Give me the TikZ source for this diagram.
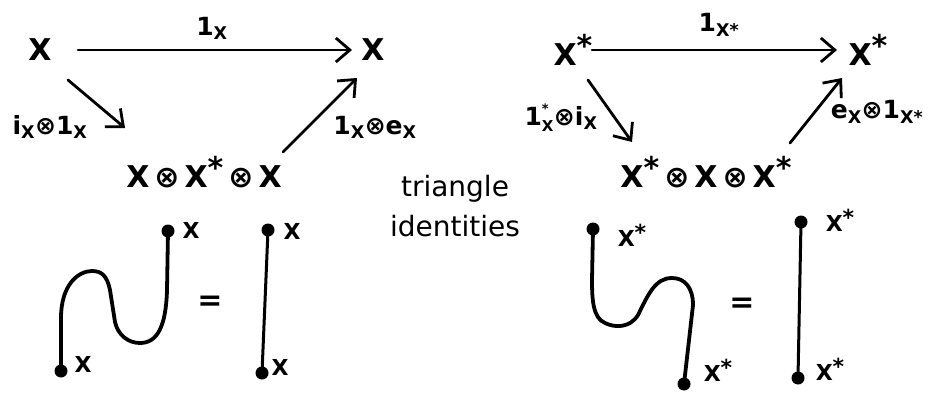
\documentclass[tikz,border=0pt]{standalone}
\usepackage{fontspec}
\setmainfont{DejaVu Sans}
\usetikzlibrary{arrows.meta}
\newcommand{\st}{\raisebox{0.28em}{*}}
\newcommand{\ot}{\,⊗\,}
\begin{document}
\begin{tikzpicture}[x=1pt,y=-1pt,
  obj/.style={font=\fontsize{30}{30}\selectfont\bfseries, inner sep=1pt},
  lab/.style={font=\fontsize{25}{25}\selectfont\bfseries, inner sep=1pt},
  arr/.style={line width=2.8pt, line cap=round, -{Straight Barb[length=14pt,width=24pt,line width=2.8pt]}},
  wire/.style={line width=3.8pt, line cap=round, line join=round},
  dot/.style={circle, fill, inner sep=0pt, minimum size=13pt},
  wlab/.style={font=\fontsize{22}{22}\selectfont\bfseries, inner sep=1pt},
  eq/.style={font=\fontsize{30}{30}\selectfont\bfseries, inner sep=1pt},
  title/.style={font=\fontsize{28}{40}\selectfont, align=center, inner sep=1pt}
]
\useasboundingbox (0,0) rectangle (936,401);
\fill[white] (0,0) rectangle (936,401);

% left triangle
\node[obj] (XL) at (40,50) {X};
\node[obj] (XR) at (373,50) {X};
\node[obj] (M) at (204,172) {X\ot X\st\ot X};
\draw[arr] ([xshift=38]XL.center) -- ([xshift=-21]XR.center);
\draw[arr] ([shift={(28,30)}]XL.center) -- ([shift={(-79,-44)}]M.center);
\draw[arr] ([shift={(79,-20)}]M.center) -- ([shift={(-16,28)}]XR.center);
\node[lab] (l1) at (212,28) {1\textsubscript{X}};
\node[lab] (l2) at (50,127) {i\textsubscript{X}⊗1\textsubscript{X}};
\node[lab] (l3) at (375,127) {1\textsubscript{X}⊗e\textsubscript{X}};

% right triangle
\node[obj] (YL) at (573,50) {X\st};
\node[obj] (YR) at (868,50) {X\st};
\node[obj] (N) at (706,172) {X\st\ot X\ot X\st};
\draw[arr] ([xshift=19]YL.center) -- ([xshift=-31]YR.center);
\draw[arr] ([shift={(15,30)}]YL.center) -- ([shift={(-74,-30)}]N.center);
\draw[arr] ([shift={(84,-29)}]N.center) -- ([shift={(-26,28)}]YR.center);
\node[lab] (r1) at (719,25) {1\textsubscript{X*}};
\node[lab] (r2) at (561,118) {$\hbox{1}^{\hbox{\fontsize{13}{13}\selectfont\bfseries *}}_{\hbox{\fontsize{15}{15}\selectfont\bfseries X}}$⊗i\textsubscript{X}};
\node[lab] (r3) at (877,112) {e\textsubscript{X}⊗1\textsubscript{X*}};

% title
\node[title] (T) at (455,206) {triangle\\identities};

% left string diagram
\node[dot] (a1) at (61,371) {};
\node[dot] (a2) at (168,231) {};
\draw[wire] (a1.center) -- (61,318) .. controls (61,285) and (78,271) .. (92,271)
  .. controls (102,271) and (107,276) .. (110,290) -- (115,322)
  .. controls (118,335) and (128,343) .. (140,343)
  .. controls (158,343) and (166,325) .. (167,290) -- (a2.center);
\node[wlab] (a1l) at (83,364) {X};
\node[wlab] (a2l) at (191,230) {X};
\node[eq] (e1) at (210,303) {=};
\node[dot] (b1) at (268,230) {};
\node[dot] (b2) at (262,373) {};
\draw[wire, line width=3pt] (b1.center) -- (b2.center);
\node[wlab] (b1l) at (292,231) {X};
\node[wlab] (b2l) at (280,367) {X};

% right string diagram
\node[dot] (c1) at (593,229) {};
\node[dot] (c2) at (684,384) {};
\draw[wire] (c1.center) -- (592,280) .. controls (592,300) and (593,318) .. (605,323)
  .. controls (615,328) and (630,328) .. (638,315)
  .. controls (648,295) and (655,278) .. (672,278)
  .. controls (685,278) and (693,288) .. (693,305) -- (c2.center);
\node[wlab] (c1l) at (632,235) {X\st};
\node[wlab] (c2l) at (718,370) {X\st};
\node[eq] (e2) at (742,305) {=};
\node[dot] (d1) at (801,222) {};
\node[dot] (d2) at (798,378) {};
\draw[wire, line width=3pt] (d1.center) -- (d2.center);
\node[wlab] (d1l) at (840,220) {X\st};
\node[wlab] (d2l) at (830,369) {X\st};
\end{tikzpicture}
\end{document}
